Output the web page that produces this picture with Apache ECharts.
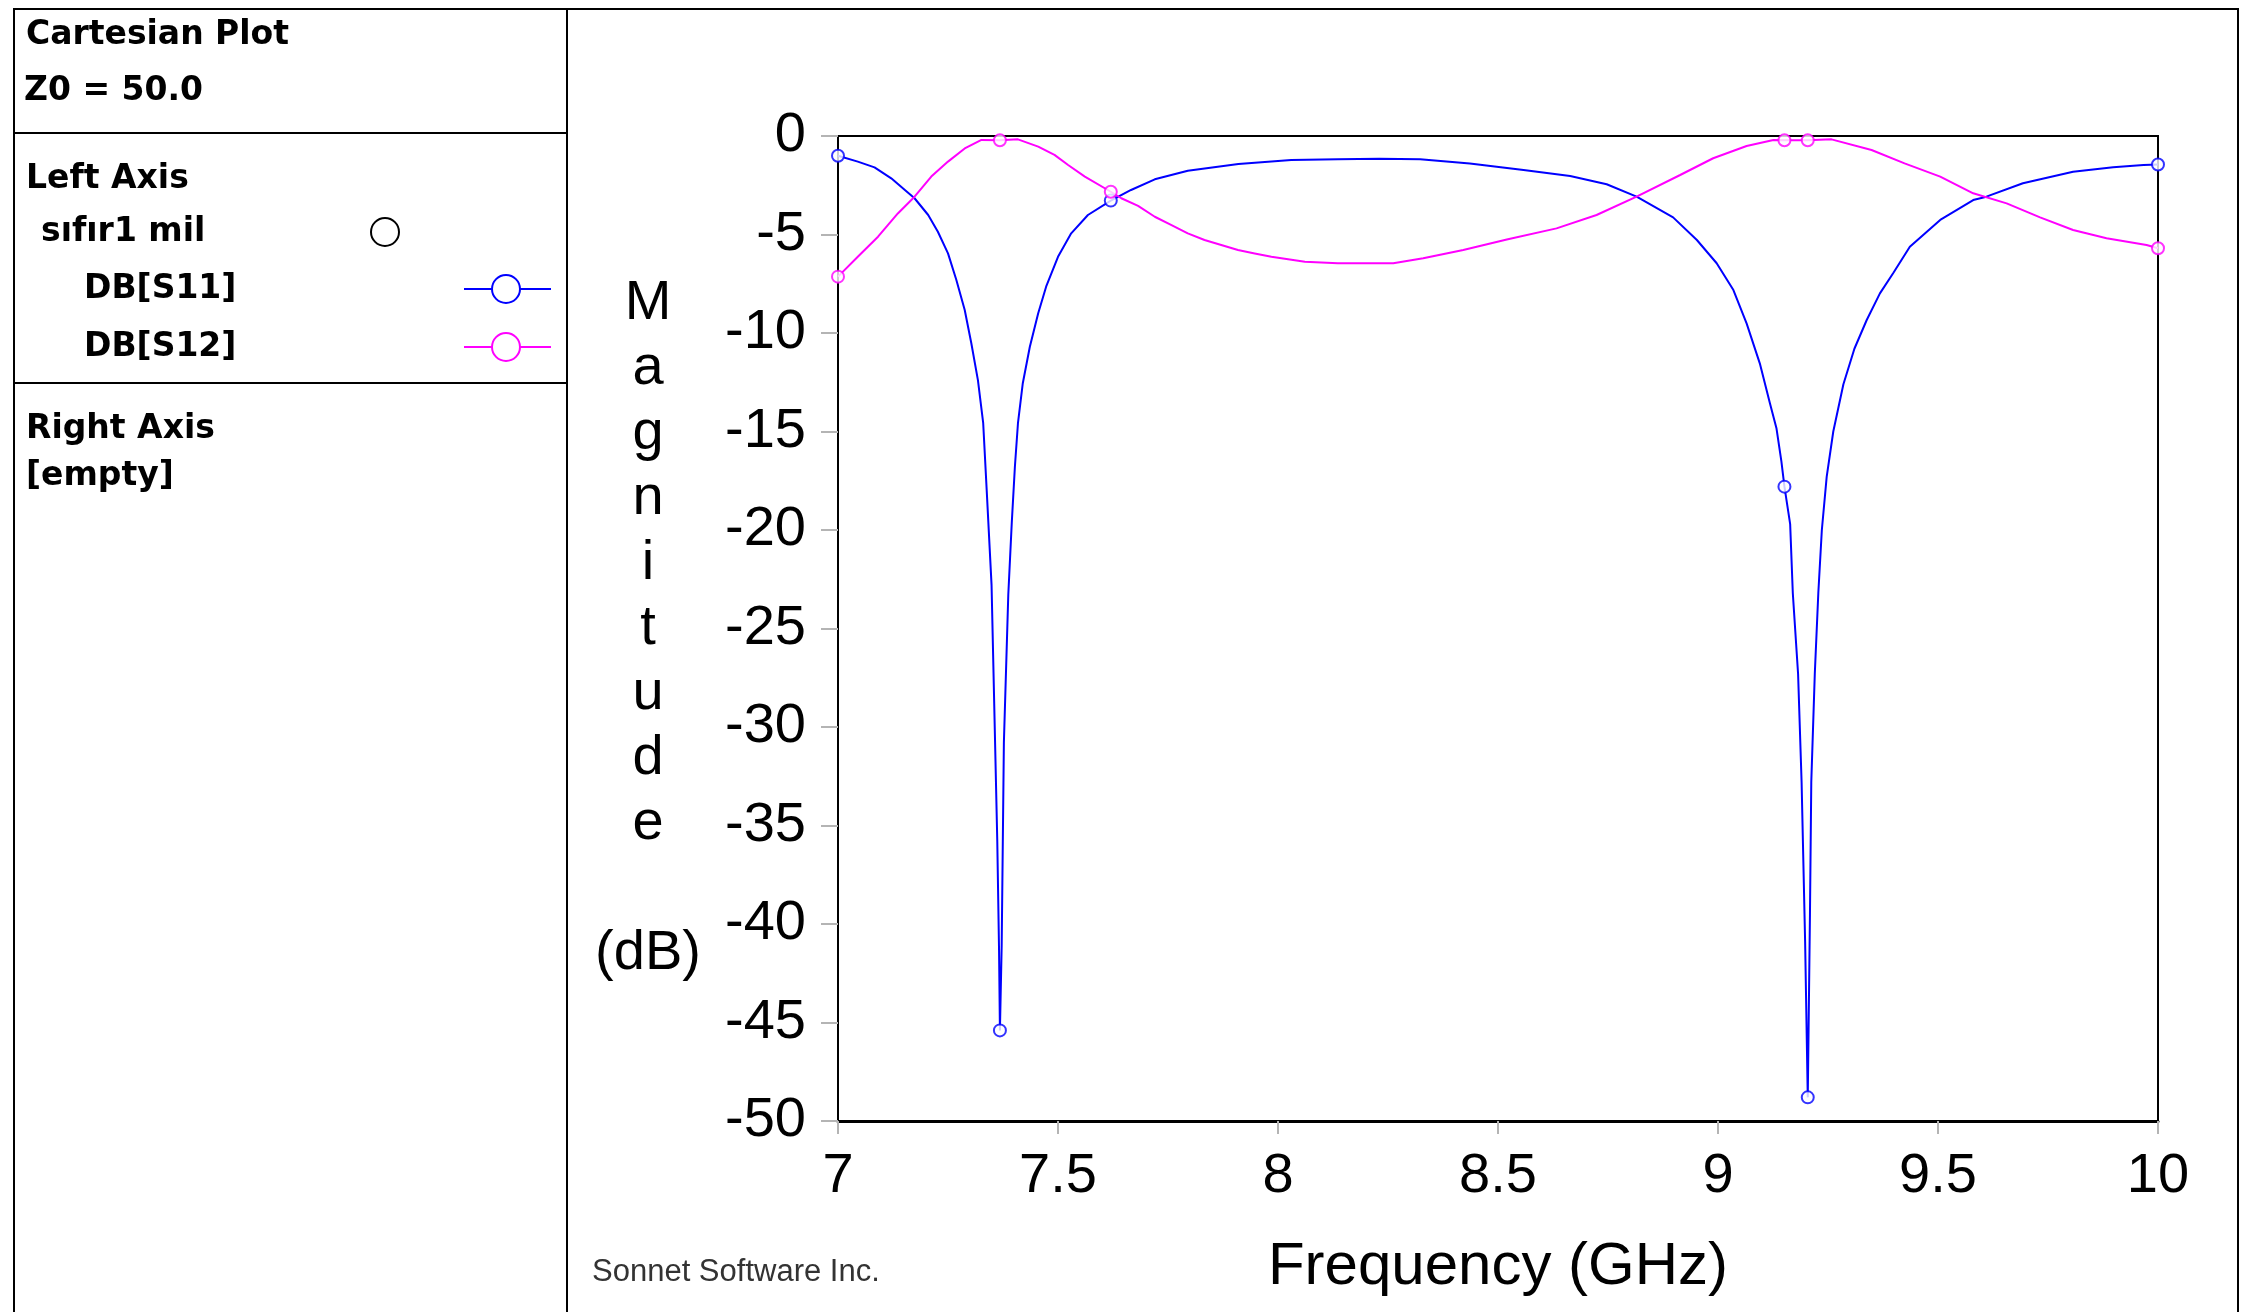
<!DOCTYPE html>
<html>
<head>
<meta charset="utf-8">
<script src="https://cdn.jsdelivr.net/npm/echarts@6/dist/echarts.min.js"></script>
<style>
  html, body { margin: 0; padding: 0; background: #fff; }
  #chart { width: 2244px; height: 1312px; }
</style>
</head>
<body>
<div id="chart"></div>
<script>
// DB[S11] trace (GHz, dB)
var s11Freq = [7.000, 7.045, 7.083, 7.121, 7.152, 7.174, 7.205, 7.227, 7.250, 7.269, 7.288, 7.303, 7.318, 7.330, 7.338, 7.349, 7.355,
  7.362, 7.366, 7.368, 7.372, 7.377, 7.387, 7.395, 7.402, 7.409, 7.420, 7.436, 7.455, 7.473, 7.500, 7.530, 7.568, 7.620, 7.666, 7.720,
  7.795, 7.910, 8.030, 8.136, 8.230, 8.323, 8.436, 8.558, 8.664, 8.747, 8.815, 8.898, 8.952, 8.997, 9.035, 9.065, 9.095, 9.118, 9.133, 9.144,
  9.151, 9.164, 9.170, 9.182, 9.190, 9.198, 9.204, 9.209, 9.212, 9.220, 9.228, 9.236, 9.247, 9.262, 9.285, 9.310, 9.338, 9.368, 9.398,
  9.436, 9.505, 9.580, 9.610, 9.693, 9.807, 9.898, 9.967, 10.000];
var s11Db = [-1.0, -1.3, -1.59, -2.15, -2.74, -3.16, -4.01, -4.86, -5.96, -7.31, -8.83, -10.52, -12.39, -14.58, -18.0, -22.8, -28.8,
  -35.8, -41.3, -45.4, -41.1, -30.8, -23.3, -19.6, -16.8, -14.58, -12.55, -10.7, -9.0, -7.65, -6.13, -4.94, -4.01, -3.28, -2.74, -2.2,
  -1.76, -1.42, -1.22, -1.18, -1.15, -1.18, -1.39, -1.73, -2.03, -2.45, -3.08, -4.13, -5.28, -6.46, -7.82, -9.51, -11.54, -13.57, -14.85, -16.5,
  -17.8, -19.7, -23.2, -27.3, -32.8, -40.9, -48.8, -39.5, -32.8, -27.3, -23.2, -20.0, -17.3, -15.0, -12.6, -10.8, -9.34, -7.99, -6.97,
  -5.62, -4.26, -3.25, -3.08, -2.4, -1.81, -1.59, -1.47, -1.45];

// DB[S12] trace
var s12Freq = [7.000, 7.045, 7.091, 7.136, 7.174, 7.212, 7.250, 7.288, 7.326, 7.368, 7.409, 7.455, 7.492, 7.523, 7.561, 7.620, 7.644,
  7.682, 7.720, 7.758, 7.795, 7.833, 7.871, 7.909, 7.947, 7.985, 8.061, 8.136, 8.262, 8.330, 8.421, 8.520, 8.633, 8.724, 8.815, 8.914,
  8.989, 9.065, 9.126, 9.151, 9.204, 9.258, 9.349, 9.424, 9.505, 9.580, 9.656, 9.732, 9.807, 9.883, 9.974, 10.000];
var s12Db = [-7.14, -6.13, -5.11, -3.93, -3.08, -2.06, -1.3, -0.63, -0.2, -0.22, -0.17, -0.54, -0.96, -1.47, -2.06, -2.83, -3.16,
  -3.55, -4.1, -4.52, -4.94, -5.28, -5.53, -5.79, -5.96, -6.13, -6.38, -6.46, -6.46, -6.21, -5.79, -5.25, -4.69, -4.01, -3.08, -1.98,
  -1.13, -0.51, -0.2, -0.22, -0.22, -0.17, -0.71, -1.39, -2.06, -2.91, -3.42, -4.13, -4.77, -5.19, -5.53, -5.7];

// simulated frequency points shown with circles
var markerFreq = [7.000, 7.368, 7.620, 9.151, 9.204, 10.000];
var s11Marker = [-1.0, -45.4, -3.28, -17.8, -48.8, -1.45];
var s12Marker = [-7.14, -0.22, -2.83, -0.22, -0.22, -5.7];

var legendNames = ['DB[S11]', 'DB[S12]'];
var colors = ['#0000ff', '#ff00ff'];

function pairs(xs, ys) {
  return xs.map(function (x, i) { return [x, ys[i]]; });
}

var chart = echarts.init(document.getElementById('chart'));

var panelFont = 'bold 33px "DejaVu Sans"';
function label(x, y, text) {
  return { type: 'text', x: x, y: y, style: { text: text, font: panelFont, fill: '#000', verticalAlign: 'middle' } };
}
function hline(x1, x2, y, color, w) {
  return { type: 'line', shape: { x1: x1, y1: y, x2: x2, y2: y }, style: { stroke: color, lineWidth: w } };
}
function circle(cx, cy, r, color) {
  return { type: 'circle', shape: { cx: cx, cy: cy, r: r }, style: { fill: '#fff', stroke: color, lineWidth: 2 }, z: 10 };
}

var option = {
  animation: false,
  backgroundColor: '#fff',
  grid: {
    left: 838, right: 86, top: 136, bottom: 191,
    show: true, borderColor: '#000', borderWidth: 2, backgroundColor: 'transparent'
  },
  xAxis: {
    type: 'value', min: 7, max: 10, interval: 0.5,
    name: 'Frequency (GHz)', nameLocation: 'middle', nameGap: 146,
    nameTextStyle: { fontFamily: 'Liberation Sans', fontSize: 60, color: '#000', verticalAlign: 'middle' },
    axisLine: { show: true, onZero: false, lineStyle: { color: '#000', width: 3 } },
    axisTick: { show: true, length: 13, lineStyle: { color: '#b4b4b4', width: 2 } },
    axisLabel: { fontFamily: 'Liberation Sans', fontSize: 56, color: '#000', margin: 28 },
    splitLine: { show: false }
  },
  yAxis: {
    type: 'value', min: -50, max: 0, interval: 5,
    name: 'M\na\ng\nn\ni\nt\nu\nd\ne\n\n(dB)', nameLocation: 'middle', nameGap: 190, nameRotate: 0,
    nameTextStyle: { fontFamily: 'Liberation Sans', fontSize: 56, lineHeight: 65, color: '#000', align: 'center', verticalAlign: 'middle' },
    axisLine: { show: true, onZero: false, lineStyle: { color: '#000', width: 2 } },
    axisTick: { show: true, length: 17, lineStyle: { color: '#b4b4b4', width: 2 } },
    axisLabel: { fontFamily: 'Liberation Sans', fontSize: 56, color: '#000', margin: 32 },
    splitLine: { show: false }
  },
  series: [
    {
      name: legendNames[0], type: 'line', data: pairs(s11Freq, s11Db), showSymbol: false, symbol: 'none',
      lineStyle: { color: colors[0], width: 2 }, z: 3
    },
    {
      name: legendNames[1], type: 'line', data: pairs(s12Freq, s12Db), showSymbol: false, symbol: 'none',
      lineStyle: { color: colors[1], width: 2 }, z: 4
    },
    {
      type: 'scatter', data: pairs(markerFreq, s11Marker), symbol: 'emptyCircle', symbolSize: 12,
      itemStyle: { color: colors[0], borderWidth: 1.5 }, z: 5
    },
    {
      type: 'scatter', data: pairs(markerFreq, s12Marker), symbol: 'emptyCircle', symbolSize: 12,
      itemStyle: { color: colors[1], borderWidth: 1.5 }, z: 6
    }
  ],
  graphic: [
    // outer frame and left info panel
    { type: 'rect', shape: { x: 14, y: 9, width: 2224, height: 1330 }, style: { fill: 'none', stroke: '#000', lineWidth: 2 } },
    { type: 'line', shape: { x1: 567, y1: 9, x2: 567, y2: 1312 }, style: { stroke: '#000', lineWidth: 2 } },
    hline(14, 567, 133, '#000', 2),
    hline(14, 567, 383, '#000', 2),
    label(26, 35, 'Cartesian Plot'),
    label(24, 91, 'Z0 = 50.0'),
    label(26, 179, 'Left Axis'),
    label(41, 232, 'sıfır1 mil'),
    circle(385, 232, 14, '#000'),
    label(84, 289, legendNames[0]),
    hline(464, 551, 289, colors[0], 2),
    circle(506, 289, 14, colors[0]),
    label(84, 347, legendNames[1]),
    hline(464, 551, 347, colors[1], 2),
    circle(506, 347, 14, colors[1]),
    label(26, 429, 'Right Axis'),
    label(26, 476, '[empty]'),
    {
      type: 'text', x: 592, y: 1272,
      style: { text: 'Sonnet Software Inc.', font: '31px "Liberation Sans"', fill: '#333', verticalAlign: 'middle' }
    }
  ]
};

chart.setOption(option);
window.addEventListener('resize', function () {
  chart.resize();
});
</script>
</body>
</html>
